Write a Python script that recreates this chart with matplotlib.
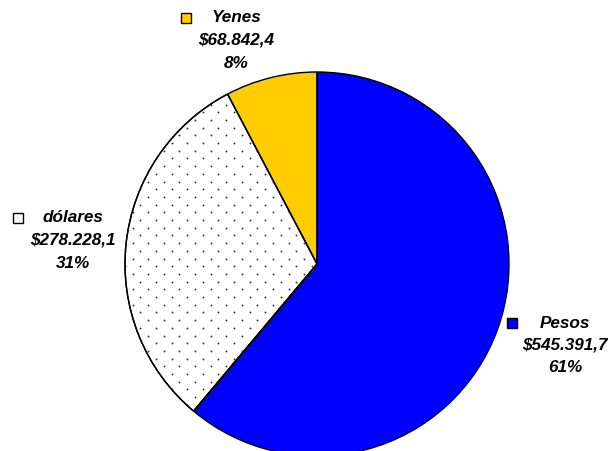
import matplotlib.pyplot as plt
import numpy as np

# data
names = ['Yenes', 'dólares', 'Pesos']
values = [68842.4, 278228.1, 545391.7]
amount_labels = ['$68.842,4', '$278.228,1', '$545.391,7']
colors = ['#FFCC00', '#FFFFFF', '#0000FF']
dotted = [False, True, False]

W, H = 608, 451
fig = plt.figure(figsize=(W / 100, H / 100), dpi=100)
ax = fig.add_axes([0, 0, 1, 1])

cx, cy, r = 317, H - 264, 192
wedges, _ = ax.pie(values, colors=colors, startangle=90, counterclock=True,
                   center=(cx, cy), radius=r, frame=True,
                   wedgeprops=dict(edgecolor='black', linewidth=1.0))
ax.set_xlim(0, W)
ax.set_ylim(0, H)
ax.set_aspect('auto')
ax.axis('off')

# dotted fill texture (staggered lattice), clipped to the wedge
dx, dy = 15.6, 7.7
rows = np.arange(0, H + dy, dy)
px, py = [], []
for i, yy in enumerate(rows):
    xs = np.arange((dx / 2) * (i % 2), W + dx, dx)
    px.extend(xs)
    py.extend([yy] * len(xs))
for w, d in zip(wedges, dotted):
    if d:
        sc = ax.scatter(px, py, s=1.8, color='#333333', linewidths=0, zorder=w.get_zorder() + 0.1)
        sc.set_clip_path(w)
        edge = plt.matplotlib.patches.Wedge(w.center, w.r, w.theta1, w.theta2,
                                            facecolor='none', edgecolor='black',
                                            linewidth=1.0, zorder=w.get_zorder() + 0.2)
        ax.add_patch(edge)

total = sum(values)
# label anchor (centre of text column, top line y) and marker x, in pixels
label_pos = [(236, 18, 186), (73, 218, 18), (565, 323, 512)]
font = dict(family='Liberation Sans', fontsize=12.3, fontweight='bold',
            fontstyle='italic', ha='center', va='center', color='black')
for name, amt, v, c, (x, y, mx) in zip(names, amount_labels, values, colors, label_pos):
    pct = '%d%%' % round(100 * v / total)
    ax.text(x, H - y, name, **font)
    ax.text(x, H - y - 22, amt, **font)
    ax.text(x, H - y - 45, pct, **font)
    ax.plot([mx], [H - y], marker='s', markersize=6.8, markerfacecolor=c,
            markeredgecolor='black', markeredgewidth=1.0)

fig.savefig('out.png', dpi=100)
